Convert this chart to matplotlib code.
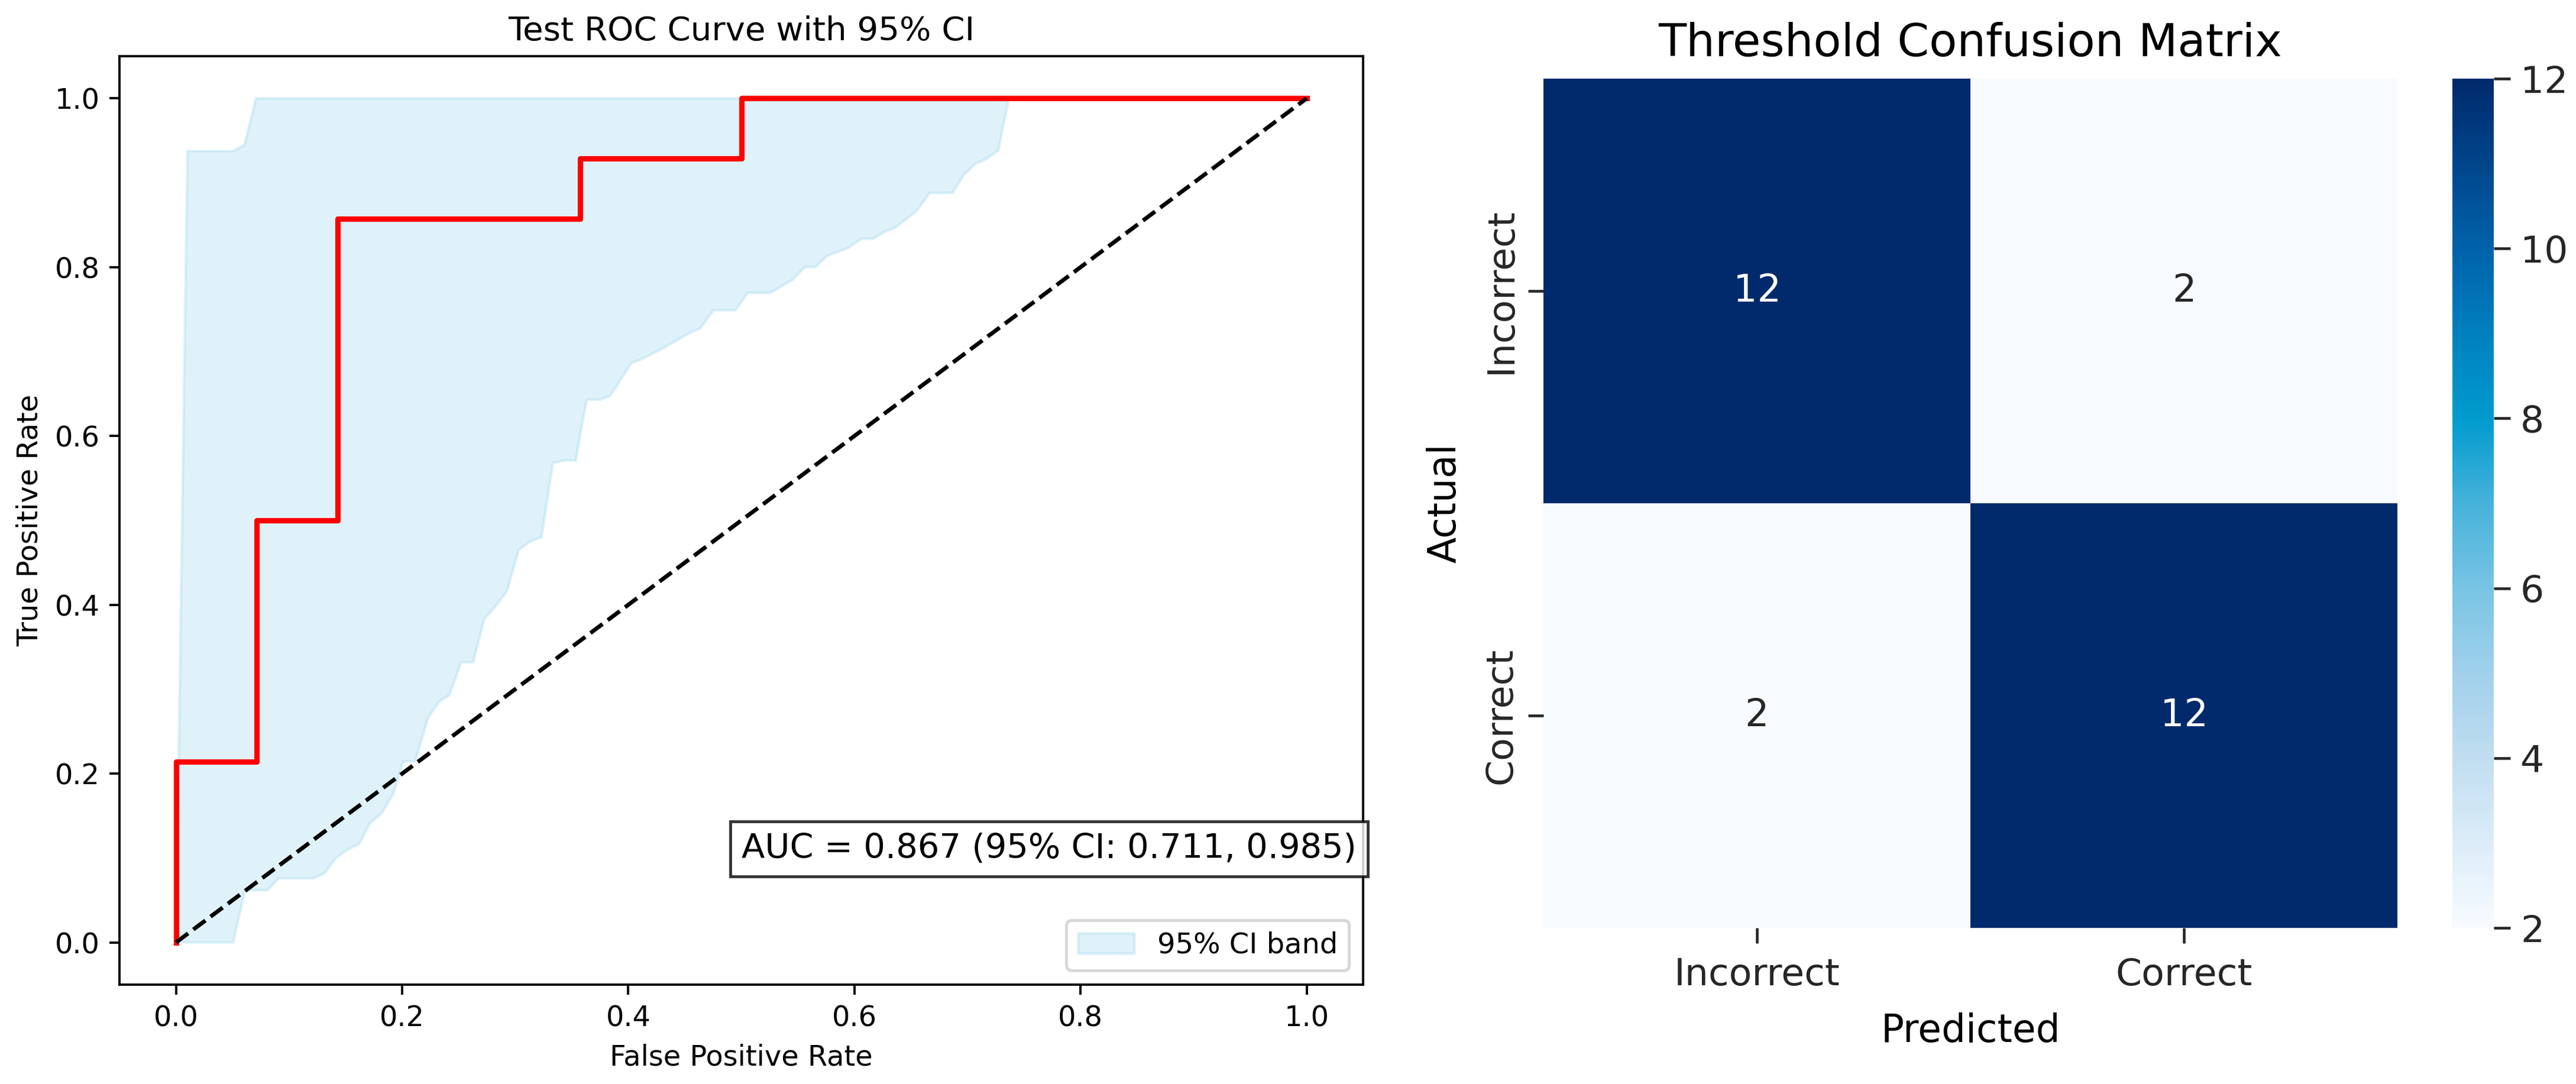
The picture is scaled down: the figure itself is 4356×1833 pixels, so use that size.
import numpy as np
import matplotlib
matplotlib.use('Agg')
import matplotlib.pyplot as plt
from matplotlib.colors import LinearSegmentedColormap
import seaborn as sns

# test ROC curve (14 positives / 14 negatives)
fpr = [0, 0, 1/14, 1/14, 2/14, 2/14, 5/14, 5/14, 7/14, 7/14, 1]
tpr = [0, 3/14, 3/14, 7/14, 7/14, 12/14, 12/14, 13/14, 13/14, 1, 1]
auc_val = 0.867
auc_lo, auc_hi = 0.711, 0.985

# bootstrap 95% CI band
upper_x = [0, 0.0101, 0.0505, 0.0606, 0.0707, 1.0]
upper_y = [0, 0.9375, 0.9375, 0.945, 1.0, 1.0]
lower_x = [0, 0.0505, 0.0606, 0.0646, 0.081, 0.0907, 0.1216, 0.1315, 0.141, 0.1516,
           0.162, 0.1718, 0.1817, 0.192, 0.201, 0.2115, 0.2228, 0.2327, 0.2417, 0.2522,
           0.2628, 0.2726, 0.2837, 0.2926, 0.3030, 0.3131, 0.3232, 0.3333, 0.3434, 0.3535,
           0.3608, 0.3632, 0.3747, 0.384, 0.4029, 0.412, 0.4307, 0.4542, 0.4636, 0.4752,
           0.4948, 0.5055, 0.5257, 0.5452, 0.556, 0.5654, 0.5756, 0.5944, 0.606, 0.6163,
           0.6268, 0.6362, 0.655, 0.6666, 0.6868, 0.697, 0.7073, 0.7157, 0.7272, 0.7366, 1.0]
lower_y = [0, 0, 0.0596, 0.0618, 0.0618, 0.0759, 0.0759, 0.0821, 0.0995, 0.110,
           0.1165, 0.1419, 0.1527, 0.176, 0.2144, 0.2144, 0.266, 0.2854, 0.293, 0.332,
           0.332, 0.383, 0.400, 0.416, 0.465, 0.475, 0.48, 0.568, 0.571, 0.571,
           0.626, 0.643, 0.643, 0.6475, 0.6867, 0.691, 0.704, 0.722, 0.7273, 0.749,
           0.749, 0.7695, 0.7695, 0.785, 0.800, 0.800, 0.8133, 0.8227, 0.8336, 0.8336,
           0.842, 0.847, 0.8665, 0.888, 0.888, 0.910, 0.9228, 0.9274, 0.938, 1.0, 1.0]

# confusion matrix at the chosen threshold
labels = ['Incorrect', 'Correct']
cm = np.array([[12, 2], [2, 12]])
cbar_ticks = [2, 4, 6, 8, 10, 12]

# colour ramp as it looks in the picture
ramp = [(0.0, (247, 251, 255)), (0.2, (192, 221, 240)), (0.3, (160, 208, 235)),
        (0.4, (120, 196, 228)), (0.5, (70, 178, 218)), (0.6, (0, 155, 206)),
        (0.7, (0, 128, 190)), (0.8, (0, 98, 170)), (0.9, (0, 70, 140)),
        (1.0, (0, 42, 108))]
cmap = LinearSegmentedColormap.from_list(
    'cm_blues', [(p, tuple(c / 255 for c in rgb)) for p, rgb in ramp])

S = 1.15  # the original was drawn a bit larger than 300 dpi defaults

fig = plt.figure(figsize=(14.52, 6.11), dpi=300)

##左图 ROC
ax1 = fig.add_axes([0.0464, 0.0917, 0.4828, 0.8565])
ax1.fill(upper_x + lower_x[::-1], upper_y + lower_y[::-1],
         color='skyblue', alpha=0.25, lw=1.0 * S, label='95% CI band')
ax1.plot(fpr, tpr, color='red', lw=2.2)
ax1.plot([0, 1], [0, 1], 'k--', lw=1.65)
ax1.set_xlim(-0.05, 1.05)
ax1.set_ylim(-0.05, 1.05)
ax1.set_title('Test ROC Curve with 95% CI', fontsize=13.5, pad=6.5)
ax1.set_xlabel('False Positive Rate', fontsize=10 * S, labelpad=4 * S)
ax1.set_ylabel('True Positive Rate', fontsize=10 * S, labelpad=4 * S)
ax1.tick_params(labelsize=10 * S, length=3.5 * S, width=0.8 * S, pad=3.5 * S)
for sp in ax1.spines.values():
    sp.set_linewidth(0.8 * S)
ax1.text(0.5, 0.146, f'AUC = {auc_val:.3f} (95% CI: {auc_lo:.3f}, {auc_hi:.3f})',
         transform=ax1.transAxes, fontsize=12 * S, ha='left', va='center',
         bbox=dict(facecolor='white', edgecolor='black', alpha=0.8,
                   linewidth=1.0 * S, pad=4 * S))
leg = ax1.legend(loc='lower right', fontsize=10 * S)
leg.get_frame().set_linewidth(1.0 * S)

##右图 confusion matrix
ax2 = fig.add_axes([0.5992, 0.1440, 0.3315, 0.7834])
cax = fig.add_axes([0.9520, 0.1440, 0.0161, 0.7834])
sns.heatmap(cm, ax=ax2, cbar_ax=cax, cmap=cmap, annot=True, fmt='d',
            xticklabels=labels, yticklabels=labels,
            annot_kws={'fontsize': 15.3})
ax2.set_title('Threshold Confusion Matrix', fontsize=18.5, pad=9.1)
ax2.set_xlabel('Predicted', fontsize=15.5, labelpad=8)
ax2.set_ylabel('Actual', fontsize=15.5, labelpad=8)
ax2.tick_params(axis='both', labelsize=15.2, length=6.3, width=1.1,
                color='#262626', labelcolor='#262626')
ax2.tick_params(axis='x', pad=5.6)
ax2.tick_params(axis='y', pad=3.6)
plt.setp(ax2.get_yticklabels(), rotation=90, va='center')
plt.setp(ax2.get_xticklabels(), rotation=0)

cax.set_yticks(cbar_ticks)
cax.tick_params(labelsize=15.2, length=6.6, width=1.1, pad=4.2,
                color='#262626', labelcolor='#262626')

fig.savefig('out.png', dpi=300)
